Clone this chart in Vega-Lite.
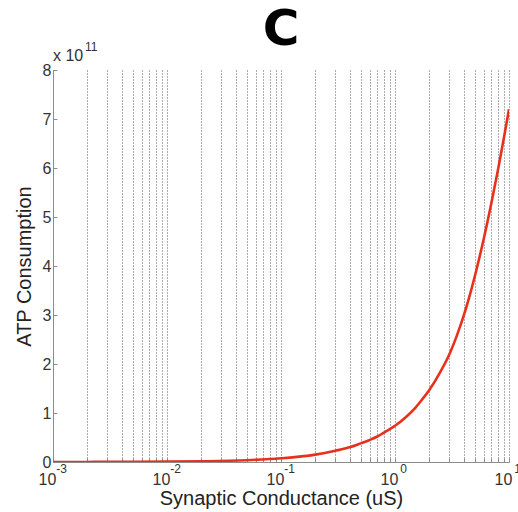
{
  "$schema": "https://vega.github.io/schema/vega-lite/v6.json",
  "autosize": "none",
  "width": 456,
  "height": 392,
  "padding": {"left": 53, "top": 70, "right": 9, "bottom": 50},
  "background": "white",
  "title": {
    "text": "C",
    "font": "DejaVu Sans",
    "fontSize": 50,
    "fontWeight": "bold",
    "color": "#000000",
    "anchor": "middle",
    "frame": "group",
    "offset": 0,
    "dy": 14
  },
  "config": {
    "view": {"stroke": null},
    "axis": {
      "labelFont": "Liberation Sans",
      "titleFont": "Liberation Sans",
      "labelColor": "#333333",
      "titleColor": "#222222",
      "domainColor": "#8c8c8c",
      "tickColor": "#8c8c8c"
    }
  },
  "datasets": {
    "atp": [
      {"g": 0.001, "atp": 0.0007e11},
      {"g": 0.002, "atp": 0.0015e11},
      {"g": 0.005, "atp": 0.0037e11},
      {"g": 0.01, "atp": 0.0075e11},
      {"g": 0.02, "atp": 0.015e11},
      {"g": 0.05, "atp": 0.037e11},
      {"g": 0.1, "atp": 0.075e11},
      {"g": 0.2, "atp": 0.15e11},
      {"g": 0.3, "atp": 0.23e11},
      {"g": 0.4, "atp": 0.3e11},
      {"g": 0.5, "atp": 0.38e11},
      {"g": 0.6, "atp": 0.45e11},
      {"g": 0.7, "atp": 0.52e11},
      {"g": 0.8, "atp": 0.6e11},
      {"g": 0.9, "atp": 0.67e11},
      {"g": 1, "atp": 0.74e11},
      {"g": 1.25, "atp": 0.92e11},
      {"g": 1.5, "atp": 1.1e11},
      {"g": 1.75, "atp": 1.29e11},
      {"g": 2, "atp": 1.47e11},
      {"g": 2.5, "atp": 1.84e11},
      {"g": 3, "atp": 2.2e11},
      {"g": 3.5, "atp": 2.59e11},
      {"g": 4, "atp": 2.98e11},
      {"g": 4.5, "atp": 3.38e11},
      {"g": 5, "atp": 3.78e11},
      {"g": 6, "atp": 4.55e11},
      {"g": 7, "atp": 5.28e11},
      {"g": 8, "atp": 5.96e11},
      {"g": 9, "atp": 6.6e11},
      {"g": 10, "atp": 7.2e11}
    ],
    "multiplier": [
      {"g": 0.001, "atp": 8e11, "base": "x 10", "exp": "11"}
    ]
  },
  "resolve": {"axis": {"x": "independent"}},
  "layer": [
    {
      "data": {"name": "atp"},
      "mark": {"type": "line", "color": "#e8311c", "strokeWidth": 2.6, "interpolate": "monotone", "clip": true},
      "encoding": {
        "x": {
          "field": "g",
          "type": "quantitative",
          "scale": {"type": "log", "domain": [0.001, 10], "nice": false},
          "axis": {
            "orient": "bottom",
            "title": "Synaptic Conductance (uS)",
            "titleFontSize": 20,
            "titleFontWeight": "normal",
            "titlePadding": 1,
            "labelFontSize": 16,
            "labelPadding": 13,
            "labelOffset": -6,
            "labelFlush": false,
            "labelOverlap": false,
            "values": [0.001, 0.002, 0.003, 0.004, 0.005, 0.006, 0.007, 0.008, 0.009,
                       0.01, 0.02, 0.03, 0.04, 0.05, 0.06, 0.07, 0.08, 0.09,
                       0.1, 0.2, 0.3, 0.4, 0.5, 0.6, 0.7, 0.8, 0.9,
                       1, 2, 3, 4, 5, 6, 7, 8, 9, 10],
            "labelExpr": "indexof([0.001, 0.01, 0.1, 1, 10], datum.value) >= 0 ? '10' : ''",
            "ticks": true,
            "tickSize": -4,
            "grid": true,
            "gridColor": "#222222",
            "gridOpacity": 0.75,
            "gridDash": [1, 2],
            "gridWidth": 1
          }
        },
        "y": {
          "field": "atp",
          "type": "quantitative",
          "scale": {"domain": [0, 8e11], "nice": false},
          "axis": {
            "title": "ATP Consumption",
            "titleFontSize": 20,
            "titleFontWeight": "normal",
            "titlePadding": 8,
            "labelFontSize": 16,
            "labelPadding": 6,
            "values": [0, 1e11, 2e11, 3e11, 4e11, 5e11, 6e11, 7e11, 8e11],
            "labelExpr": "format(datum.value / 1e11, 'd')",
            "ticks": true,
            "tickSize": -4,
            "grid": false
          }
        }
      }
    },
    {
      "data": {"name": "atp"},
      "mark": {"type": "point", "opacity": 0},
      "encoding": {
        "x": {
          "field": "g",
          "type": "quantitative",
          "axis": {
            "orient": "bottom",
            "title": null,
            "domain": false,
            "ticks": false,
            "grid": false,
            "labelFontSize": 12,
            "labelPadding": 1,
            "labelOffset": 8,
            "labelFlush": false,
            "labelOverlap": false,
            "values": [0.001, 0.01, 0.1, 1, 10],
            "labelExpr": "datum.value == 0.001 ? '-3' : datum.value == 0.01 ? '-2' : datum.value == 0.1 ? '-1' : datum.value == 1 ? '0' : '1'"
          }
        }
      }
    },
    {
      "data": {"name": "multiplier"},
      "mark": {"type": "text", "align": "left", "baseline": "alphabetic", "dy": -9, "font": "Liberation Sans", "fontSize": 16, "color": "#333333"},
      "encoding": {
        "x": {"field": "g", "type": "quantitative", "axis": null},
        "y": {"field": "atp", "type": "quantitative"},
        "text": {"field": "base"}
      }
    },
    {
      "data": {"name": "multiplier"},
      "mark": {"type": "text", "align": "left", "baseline": "alphabetic", "dx": 32, "dy": -19, "font": "Liberation Sans", "fontSize": 12, "color": "#333333"},
      "encoding": {
        "x": {"field": "g", "type": "quantitative", "axis": null},
        "y": {"field": "atp", "type": "quantitative"},
        "text": {"field": "exp"}
      }
    }
  ]
}
